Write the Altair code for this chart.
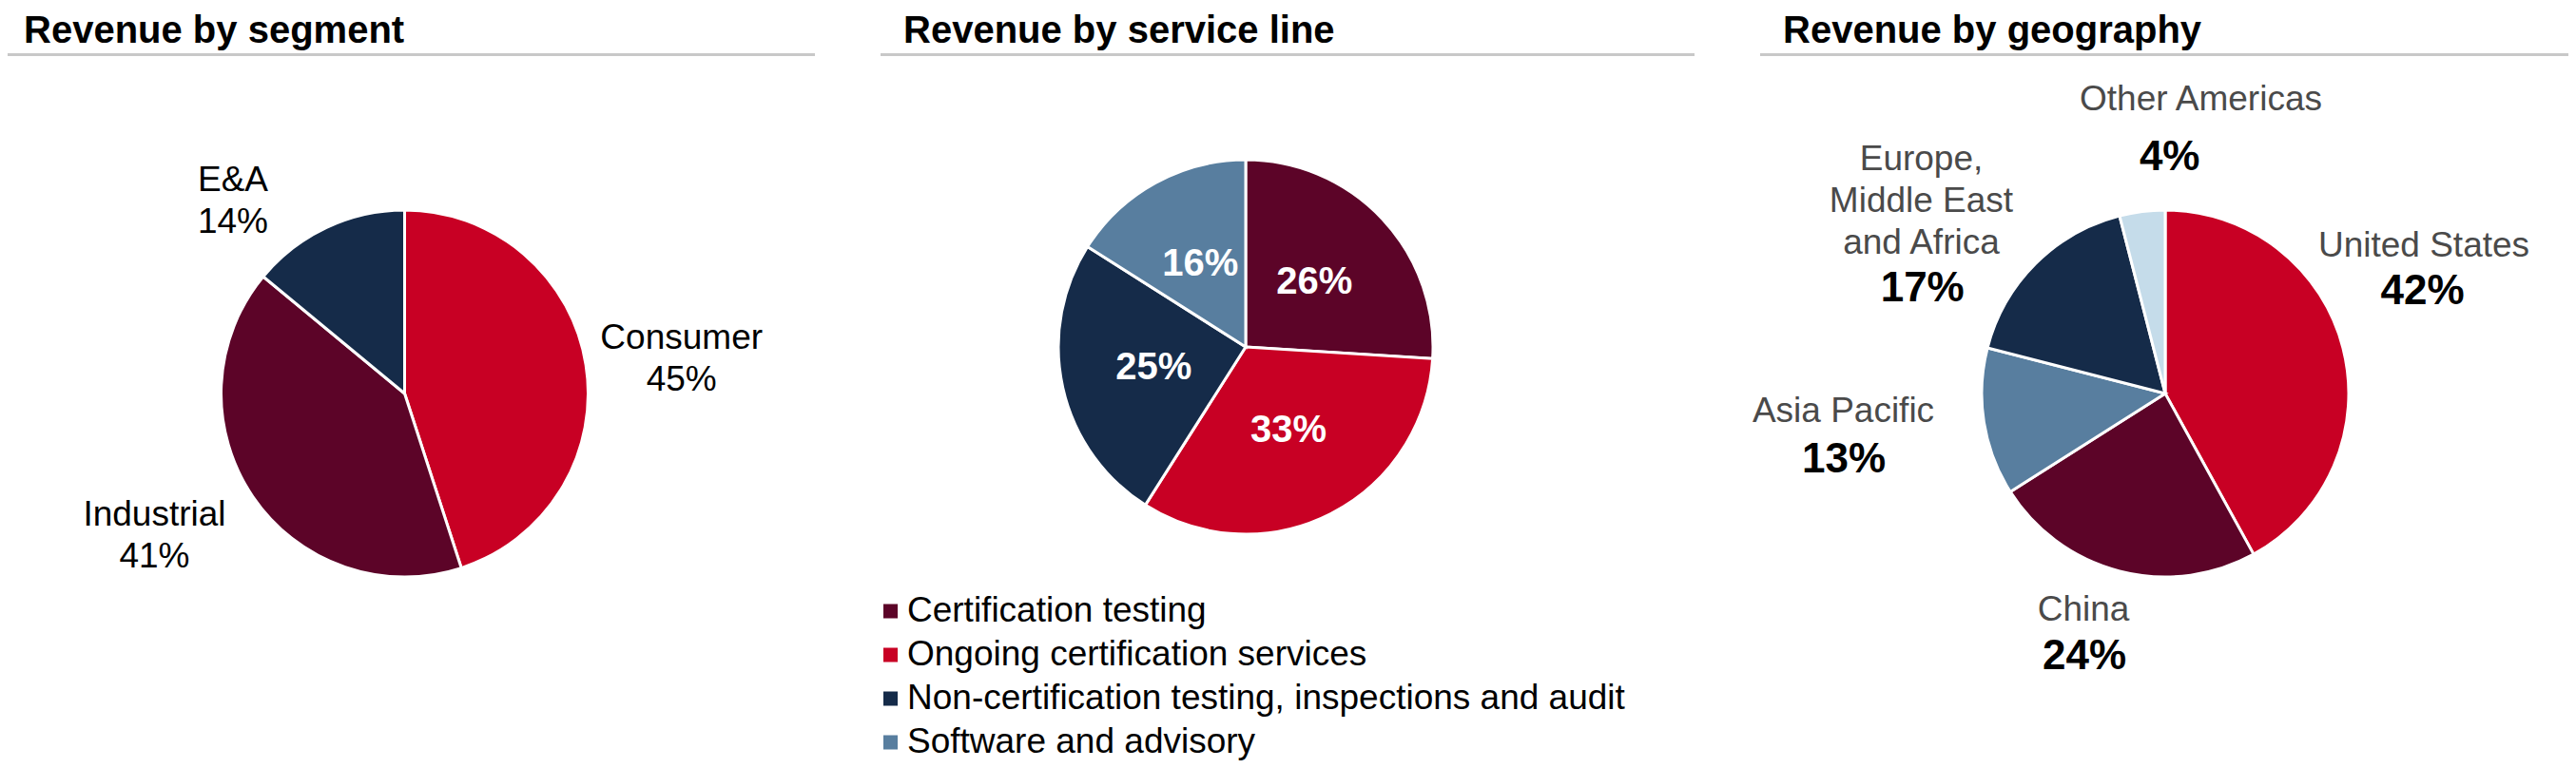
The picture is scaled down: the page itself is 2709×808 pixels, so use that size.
import altair as alt
import pandas as pd

# ---------------- data ----------------
titles = ["Revenue by segment", "Revenue by service line", "Revenue by geography"]

seg_names = ["Consumer", "Industrial", "E&A"]
seg_values = [45, 41, 14]

svc_names = [
    "Certification testing",
    "Ongoing certification services",
    "Non-certification testing, inspections and audit",
    "Software and advisory",
]
svc_values = [26, 33, 25, 16]

geo_names = ["United States", "China", "Asia Pacific",
             "Europe, Middle East and Africa", "Other Americas"]
geo_label_text = ["United States", "China", "Asia Pacific",
                  "Europe,\nMiddle East\nand Africa", "Other Americas"]
geo_values = [42, 24, 13, 17, 4]

# ---------------- style ----------------
RED, MAROON, NAVY, STEEL, LIGHT = "#C80024", "#5C0428", "#152B49", "#587E9F", "#C5DCEA"
seg_colors = [RED, MAROON, NAVY]
svc_colors = [MAROON, RED, NAVY, STEEL]
geo_colors = [RED, MAROON, STEEL, NAVY, LIGHT]
FONT = "Liberation Sans"
RULE_COLOR = "#C8C8C8"
GEO_NAME_COLOR = "#4A4A4A"

# ---------------- layout (page pixels) ----------------
OFF = 8
W, H = 2693, 792


def p(v):
    return v - OFF


PIE = {"seg": (425.5, 414, 193), "svc": (1310, 365, 197), "geo": (2277, 414, 193)}
TITLE_X = [25, 950, 1875]
TITLE_BASE = 44.5
TITLE_SIZE = 40
RULES = [(0, 857), (926, 1782), (1851, 2709)]
RULE_Y = 57.5
SEG_LABEL_XY = [(716.7, 366.7), (162.5, 553), (245, 200.7)]
GEO_NAME_XY = [(2549, 270), (2191, 653), (1938.5, 444), (2020.5, 179), (2314.5, 116)]
GEO_PCT_XY = [(2547.5, 320), (2192, 704), (1939, 497), (2021.7, 316.7), (2281.7, 179)]
LEG_SQ_X, LEG_SQ_Y0 = 936.5, 643
LEG_TEXT_X, LEG_BASE0 = 954, 653.7
LEG_STEP = 46


def frame(names, values, colors):
    return pd.DataFrame({
        "name": names,
        "value": values,
        "col": colors,
        "idx": list(range(len(names))),
        "pct": [f"{v}%" for v in values],
    })


def pie(df, key):
    cx, cy, r = PIE[key]
    return alt.Chart(df).mark_arc(radius=r, stroke="white", strokeWidth=3).encode(
        theta=alt.Theta("value:Q", stack=True),
        color=alt.Color("col:N", scale=None),
        order=alt.Order("idx:Q"),
        x=alt.value(p(cx)),
        y=alt.value(p(cy)),
    )


def text_layer(df, **mark):
    return alt.Chart(df).mark_text(font=FONT, baseline="alphabetic", **mark).encode(
        x=alt.X("x:Q", scale=None, axis=None),
        y=alt.Y("y:Q", scale=None, axis=None),
        text="text:N",
    )


seg_df = frame(seg_names, seg_values, seg_colors)
svc_df = frame(svc_names, svc_values, svc_colors)
geo_df = frame(geo_names, geo_values, geo_colors)

# titles
title_df = pd.DataFrame({"text": titles, "x": [p(x) for x in TITLE_X],
                         "y": [p(TITLE_BASE)] * 3})
title_layer = text_layer(title_df, align="left", fontSize=TITLE_SIZE,
                         fontWeight="bold", color="black")

# separator rules
rule_df = pd.DataFrame({"x": [p(a) for a, b in RULES], "x2": [p(b) for a, b in RULES],
                        "y": [p(RULE_Y)] * 3})
rule_layer = alt.Chart(rule_df).mark_rule(color=RULE_COLOR, strokeWidth=3).encode(
    x=alt.X("x:Q", scale=None, axis=None), x2="x2:Q",
    y=alt.Y("y:Q", scale=None, axis=None))

# segment labels
seg_lab = pd.DataFrame({
    "text": [f"{n}\n{v}%" for n, v in zip(seg_names, seg_values)],
    "x": [p(x) for x, y in SEG_LABEL_XY], "y": [p(y) for x, y in SEG_LABEL_XY]})
seg_label_layer = text_layer(seg_lab, align="center", fontSize=37, color="black",
                             lineBreak="\n", lineHeight=44)

# service line inner labels
cx, cy, r = PIE["svc"]
svc_inner = alt.Chart(svc_df).mark_text(
    radius=99, font=FONT, fontSize=40, fontWeight="bold", color="white",
    align="center", baseline="middle").encode(
    theta=alt.Theta("value:Q", stack=True),
    order=alt.Order("idx:Q"),
    detail="name:N",
    text="pct:N",
    x=alt.value(p(cx)), y=alt.value(p(cy)))

# service line legend
leg_df = svc_df.copy()
leg_df["sy"] = [p(LEG_SQ_Y0 + i * LEG_STEP) for i in leg_df["idx"]]
leg_df["ty"] = [p(LEG_BASE0 + i * LEG_STEP) for i in leg_df["idx"]]
leg_sq = alt.Chart(leg_df).mark_square(size=225, opacity=1).encode(
    x=alt.value(p(LEG_SQ_X)),
    y=alt.Y("sy:Q", scale=None, axis=None),
    color=alt.Color("col:N", scale=None))
leg_txt = alt.Chart(leg_df).mark_text(font=FONT, fontSize=37, align="left",
                                      baseline="alphabetic", color="black").encode(
    x=alt.value(p(LEG_TEXT_X)),
    y=alt.Y("ty:Q", scale=None, axis=None),
    text="name:N")

# geography labels
geo_name_df = pd.DataFrame({"text": geo_label_text,
                            "x": [p(x) for x, y in GEO_NAME_XY],
                            "y": [p(y) for x, y in GEO_NAME_XY]})
geo_pct_df = pd.DataFrame({"text": [f"{v}%" for v in geo_values],
                           "x": [p(x) for x, y in GEO_PCT_XY],
                           "y": [p(y) for x, y in GEO_PCT_XY]})
geo_name_layer = text_layer(geo_name_df, align="center", fontSize=37,
                            color=GEO_NAME_COLOR, lineBreak="\n", lineHeight=44)
geo_pct_layer = text_layer(geo_pct_df, align="center", fontSize=44,
                           fontWeight="bold", color="black")

chart = alt.layer(
    rule_layer, title_layer,
    pie(seg_df, "seg"), seg_label_layer,
    pie(svc_df, "svc"), svc_inner, leg_sq, leg_txt,
    pie(geo_df, "geo"), geo_name_layer, geo_pct_layer,
).properties(
    width=W, height=H, padding=0,
    autosize=alt.AutoSizeParams(type="none"),
).configure_view(stroke=None)

chart.save("out.html", embed_options={"renderer": "svg", "actions": False})
